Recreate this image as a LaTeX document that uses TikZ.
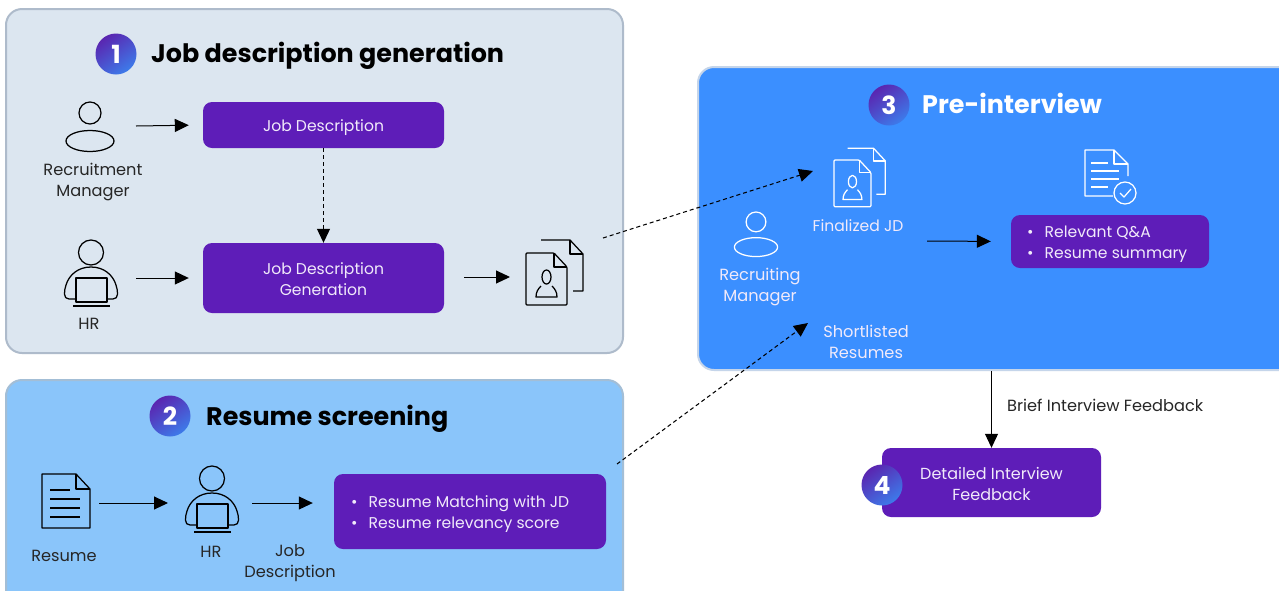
\documentclass[tikz,border=0pt]{standalone}
\usepackage{fontspec}
\setmainfont{Poppins}
\usetikzlibrary{arrows.meta}
\definecolor{panelA}{HTML}{DCE6F0}
\definecolor{panelAb}{HTML}{AEBBCB}
\definecolor{panelB}{HTML}{8AC5FA}
\definecolor{panelBb}{HTML}{A3BED6}
\definecolor{panelC}{HTML}{3B8FFF}
\definecolor{panelCb}{HTML}{C5D5EA}
\definecolor{boxpurple}{HTML}{5E1DB8}
\definecolor{badgeblue}{HTML}{3D7BEA}
\definecolor{badgepurple}{HTML}{5A25B0}
\definecolor{softwhite}{HTML}{F1EAFA}
\newcommand{\bodyfont}{\fontsize{15.6}{21}\selectfont}
\newcommand{\labfont}{\fontsize{16.2}{21}\selectfont}
\newcommand{\titlefont}{\fontsize{25.4}{30}\selectfont\bfseries}
\tikzset{
  x=1pt,y=-1pt,
  panel/.style={rectangle,rounded corners=16pt,line width=2pt,inner sep=0pt},
  pbox/.style={rectangle,rounded corners=9pt,fill=boxpurple,inner sep=0pt},
  boxtext/.style={inner sep=0pt,text=softwhite,align=center,font=\bodyfont},
  listtext/.style={inner sep=0pt,anchor=west,text=softwhite,font=\bodyfont,align=left},
  lab/.style={inner sep=0pt,align=center,font=\labfont,text=black!85},
  wlab/.style={lab,text=softwhite},
  titletext/.style={inner sep=0pt,anchor=base west,font=\titlefont},
  badge/.style={circle,minimum size=41pt,inner sep=0pt,text=white,font=\fontsize{25}{25}\selectfont\bfseries,
     left color=badgepurple,right color=badgeblue,shading angle=35},
  arr/.style={line width=1pt,-{Triangle[length=14pt,width=13pt]}},
  darr/.style={line width=1.05pt,dash pattern=on 4pt off 3pt,-{Triangle[length=14pt,width=13pt]}},
  icon/.style={line width=1.25pt,line join=round},
  pics/manager/.style={code={
    \draw[icon] (0,-14) circle[radius=11pt];
    \draw[icon] (0,14) ellipse[x radius=24pt,y radius=10.5pt];
  }},
  pics/hrman/.style={code={
    \draw[icon] (0,-25.5) circle[radius=12.5pt];
    \draw[icon] (-15,21) -- (-22,21) .. controls (-28,21) and (-27,13) .. (-25,7) .. controls (-22,-3) and (-13,-11) .. (0,-11) .. controls (13,-11) and (22,-3) .. (25,7) .. controls (27,13) and (28,21) .. (22,21) -- (15,21);
    \draw[icon] (-15,0) rectangle (16,24);
    \draw[icon] (-18,28) -- (19,28);
  }},
  pics/docpair/.style={code={
    \draw[icon] (15,-38) -- (44,-38) -- (57,-24) -- (57,13) -- (47,13);
    \draw[icon] (44,-38) -- (44,-24) -- (57,-24);
    \draw[icon,rounded corners=1pt] (0,-25) -- (28,-25) -- (41,-11) -- (41,27) -- (0,27) -- cycle;
    \draw[icon] (28,-25) -- (28,-11) -- (41,-11);
    \draw[icon] (20.5,-1) ellipse[x radius=4.5pt,y radius=7pt];
    \draw[icon] (15,8) .. controls (12,11) and (10,14) .. (10,19) -- (31,19) .. controls (31,14) and (29,11) .. (26,8);
  }},
  pics/resumedoc/.style={code={
    \draw[icon] (0,-27) -- (34,-27) -- (48,-12) -- (48,27) -- (0,27) -- cycle;
    \draw[icon] (34,-27) -- (34,-12) -- (48,-12);
    \foreach \yy/\xx in {-11/28,-2/38,7/38,16/38} \draw[icon] (8,\yy) -- (\xx,\yy);
  }},
}
\begin{document}
\begin{tikzpicture}
\useasboundingbox (0,0) rectangle (1279,590);
\clip (0,0) rectangle (1279,590);
\fill[white] (0,0) rectangle (1279,590);

% panels
\node[panel,fill=panelA,draw=panelAb,minimum width=617pt,minimum height=344pt] (P1) at (314.5,181) {};
\node[panel,fill=panelB,draw=panelBb,minimum width=617pt,minimum height=240pt] (P2) at (314.5,500) {};
\node[panel,fill=panelC,draw=panelCb,minimum width=600pt,minimum height=303pt] (P3) at (998,218.5) {};

% titles
\node[badge] (b1) at (116,54) {1};
\node[titletext] (t1) at (151,62.5) {Job description generation};
\node[badge] (b2) at (170,416) {2};
\node[titletext] (t2) at (206,425) {Resume screening};
\node[badge] (b3) at (889,105) {3};
\node[titletext,text=white] (t3) at (922,113.5) {Pre-interview};

% panel 1
\node[pbox,minimum width=241pt,minimum height=46pt] (JD) at (323.5,125) {};
\node[boxtext] (JDt) at (323.5,127.5) {Job Description};
\node[pbox,minimum width=241pt,minimum height=70pt] (JDG) at (323.5,278) {};
\node[boxtext] (JDGt) at (323.5,279) {Job Description\\Generation};
\pic at (90,127) {manager};
\node[lab] (rmlab) at (93,182.5) {Recruitment\\Manager};
\pic at (91,278) {hrman};
\node[lab] (hrlab) at (89,323.5) {HR};
\pic at (526,278) {docpair};
\coordinate (rmout) at (136,126);
\coordinate (hrout) at (136,278);
\coordinate (jdgout) at (464,277);
\coordinate (docin) at (524,277);
\draw[arr,shorten >=14pt] (rmout) -- (JD.west);
\draw[arr,shorten >=14pt] (hrout) -- (JDG.west);
\draw[darr] (JD.south) -- (JDG.north);
\draw[arr,shorten >=14pt] (jdgout) -- (docin);

% panel 2
\pic at (42,501) {resumedoc};
\node[lab] (reslab) at (64,556) {Resume};
\pic at (212,504) {hrman};
\node[lab] (hr2lab) at (211,552) {HR};
\node[lab] (jdlab) at (290,563) {Job\\Description};
\node[pbox,minimum width=272pt,minimum height=75pt] (RM) at (470,511.5) {};
\node[listtext] (RMt) at (351,514) {\textbullet\hspace{11pt}Resume Matching with JD\\\textbullet\hspace{11pt}Resume relevancy score};
\coordinate (resout) at (99,503);
\coordinate (hrin) at (168,503);
\coordinate (hr2out) at (252,503);
\draw[arr] (resout) -- (hrin);
\draw[arr,shorten >=21pt] (hr2out) -- (RM.west |- hr2out);

% panel 3
\begin{scope}[color=white]
\pic[scale=0.9] at (834,182.5) {docpair};
\pic[scale=0.9] at (756,234.5) {manager};
\draw[icon] (1128,176) -- (1128,164) -- (1114,150) -- (1085,150) -- (1085,196) -- (1113,196);
\draw[icon] (1114,150) -- (1114,164) -- (1128,164);
\foreach \yy/\xx in {163/1108,171/1119,179/1119,187/1108} \draw[icon] (1091,\yy) -- (\xx,\yy);
\draw[icon] (1125,193) circle[radius=11pt];
\draw[icon] (1120,193) -- (1124,197) -- (1131,189);
\end{scope}
\node[boxtext] (fjd) at (858,226) {Finalized JD};
\node[wlab] (rclab) at (760,287) {Recruiting\\Manager};
\node[wlab] (sllab) at (866,342) {Shortlisted\\Resumes};
\node[pbox,minimum width=198pt,minimum height=53pt] (QA) at (1110,241.5) {};
\node[listtext] (QAt) at (1027,244) {\textbullet\hspace{11pt}Relevant Q\&A\\\textbullet\hspace{11pt}Resume summary};
\coordinate (fjdout) at (927,241);
\draw[arr,shorten >=20pt] (fjdout) -- (QA.west);

% step 4
\node[pbox,minimum width=219pt,minimum height=69pt] (DF) at (991.5,482.5) {};
\node[boxtext,font=\fontsize{16}{21}\selectfont] (DFt) at (991.5,484) {Detailed Interview\\Feedback};
\node[badge] (b4) at (882,485) {4};
\coordinate (p3out) at (991.5,371);
\draw[arr] (p3out) -- (DF.north);
\node[lab,anchor=west] (bif) at (1007,405) {Brief Interview Feedback};

% cross-panel dashed links
\coordinate (docsout) at (603,238);
\coordinate (jdin) at (813,171);
\coordinate (rmout2) at (617,464);
\coordinate (slin) at (808,323);
\draw[darr] (docsout) -- (jdin);
\draw[darr] (rmout2) -- (slin);
\end{tikzpicture}
\end{document}
